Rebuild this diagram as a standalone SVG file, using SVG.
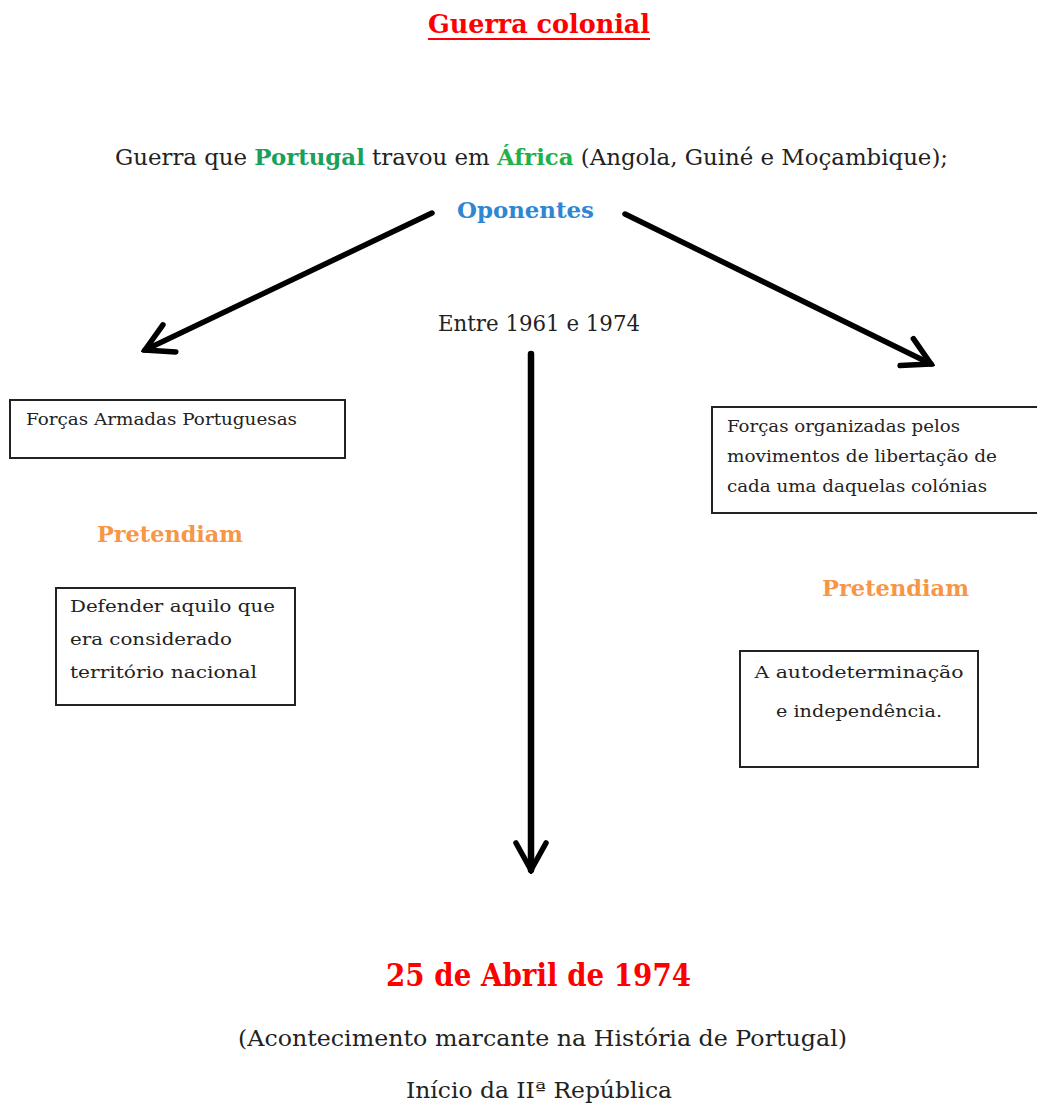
<svg xmlns="http://www.w3.org/2000/svg" width="1037" height="1108" viewBox="0 0 1037 1108">
<style>
text{font-family:"DejaVu Serif","Liberation Serif",serif;fill:#222}
.box{fill:#fff;stroke:#222;stroke-width:2}
.conn{stroke:#000;stroke-width:5.5;fill:none;stroke-linecap:round}
.small{font-size:16px}
.mid{font-size:17px}
.big{font-size:22px}
.or{fill:#f79646;font-weight:bold;font-size:22px}
</style>
<defs>
<marker id="ah" markerUnits="userSpaceOnUse" viewBox="-32 -18 36 36" refX="0" refY="0" markerWidth="36" markerHeight="36" orient="auto">
<path d="M -27 -15 L 0 0 L -27 15" fill="none" stroke="#000" stroke-width="5.5" stroke-linecap="round" stroke-linejoin="miter"/>
</marker>
</defs>
<rect width="1037" height="1108" fill="#fff"/>
<g id="title">
<text x="539" y="33" text-anchor="middle" font-size="26" font-weight="bold" style="fill:#ff0000" textLength="222" lengthAdjust="spacingAndGlyphs">Guerra colonial</text>
<line x1="428" y1="39" x2="650" y2="39" stroke="#ff0000" stroke-width="2"/>
</g>
<g id="intro">
<text x="115" y="165" class="big" textLength="833" lengthAdjust="spacingAndGlyphs">Guerra que <tspan font-weight="bold" style="fill:#1aa05a">Portugal</tspan> travou em <tspan font-weight="bold" style="fill:#22b04b">África</tspan> (Angola, Guiné e Moçambique);</text>
</g>
<g id="oponentes">
<text x="457" y="218" font-size="22" font-weight="bold" style="fill:#2e86d4" textLength="137" lengthAdjust="spacingAndGlyphs">Oponentes</text>
</g>
<g id="periodo">
<text x="438" y="331" class="big" textLength="202" lengthAdjust="spacingAndGlyphs">Entre 1961 e 1974</text>
</g>
<g id="connectors">
<line class="conn" x1="432" y1="213" x2="145" y2="350" marker-end="url(#ah)"/>
<line class="conn" x1="625" y1="214" x2="931" y2="364" marker-end="url(#ah)"/>
<line class="conn" x1="531" y1="354" x2="531" y2="870" marker-end="url(#ah)" style="stroke-width:6.5"/>
</g>
<g id="forcas-armadas">
<rect class="box" x="10" y="400" width="335" height="58"/>
<text x="26" y="425" class="small" textLength="271" lengthAdjust="spacingAndGlyphs">Forças Armadas Portuguesas</text>
</g>
<g id="pretendiam-esq">
<text x="97" y="542" class="or" textLength="146" lengthAdjust="spacingAndGlyphs">Pretendiam</text>
</g>
<g id="defender">
<rect class="box" x="56" y="588" width="239" height="117"/>
<text class="mid" x="70"><tspan x="70" y="612" textLength="205" lengthAdjust="spacingAndGlyphs">Defender aquilo que</tspan><tspan x="70" y="645" textLength="162" lengthAdjust="spacingAndGlyphs">era considerado</tspan><tspan x="70" y="678" textLength="187" lengthAdjust="spacingAndGlyphs">território nacional</tspan></text>
</g>
<g id="forcas-organizadas">
<rect class="box" x="712" y="407" width="330" height="106"/>
<text class="small"><tspan x="727" y="432" textLength="233" lengthAdjust="spacingAndGlyphs">Forças organizadas pelos</tspan><tspan x="727" y="462" textLength="270" lengthAdjust="spacingAndGlyphs">movimentos de libertação de</tspan><tspan x="727" y="492" textLength="260" lengthAdjust="spacingAndGlyphs">cada uma daquelas colónias</tspan></text>
</g>
<g id="pretendiam-dir">
<text x="822" y="596" class="or" textLength="147" lengthAdjust="spacingAndGlyphs">Pretendiam</text>
</g>
<g id="autodeterminacao">
<rect class="box" x="740" y="651" width="238" height="116"/>
<text class="mid" text-anchor="middle"><tspan x="859" y="678" textLength="209" lengthAdjust="spacingAndGlyphs">A autodeterminação</tspan><tspan x="859" y="717" textLength="166" lengthAdjust="spacingAndGlyphs">e independência.</tspan></text>
</g>
<g id="abril">
<text x="386" y="986" font-size="31" font-weight="bold" style="fill:#ff0000" textLength="305" lengthAdjust="spacingAndGlyphs">25 de Abril de 1974</text>
<text x="238" y="1046" class="big" textLength="609" lengthAdjust="spacingAndGlyphs">(Acontecimento marcante na História de Portugal)</text>
<text x="406" y="1098" class="big" textLength="266" lengthAdjust="spacingAndGlyphs">Início da IIª República</text>
</g>
</svg>
